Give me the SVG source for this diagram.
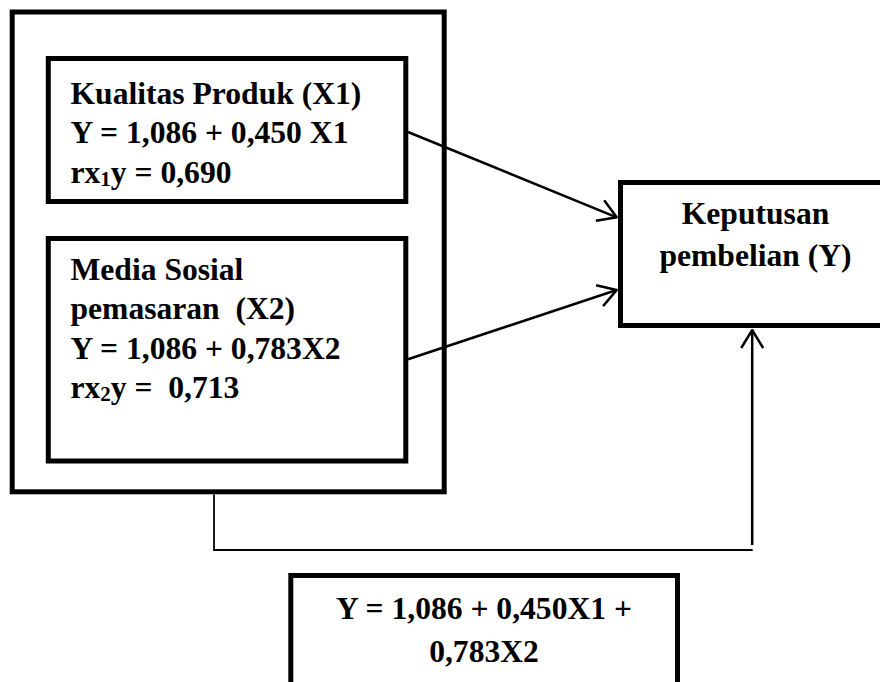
<svg xmlns="http://www.w3.org/2000/svg" width="880" height="682" viewBox="0 0 880 682">
<style>
.box{fill:#fff;stroke:#000;stroke-width:5}
.t{font-family:"Liberation Serif","Times New Roman",serif;font-weight:bold;font-size:31.6px;fill:#000;white-space:pre}
.c{text-anchor:middle}
.sub{font-size:21px}
.ln{fill:none;stroke:#000;stroke-width:2.5}
.thin{fill:none;stroke:#000;stroke-width:1.8}
</style>
<defs>
<marker id="arr" viewBox="0 0 20 24" refX="19" refY="12" markerWidth="20" markerHeight="24" markerUnits="userSpaceOnUse" orient="auto">
<path d="M1,1 L19,12 L1,23" fill="none" stroke="#000" stroke-width="2.5"/>
</marker>
</defs>
<g id="outer">
<rect class="box" x="12.2" y="12" width="432" height="479.8"/>
</g>
<g id="x1">
<rect class="box" x="48.3" y="58.5" width="357.5" height="143"/>
<text class="t" x="70.5" y="104">Kualitas Produk (X1)</text>
<text class="t" x="70.5" y="143.3">Y = 1,086 + 0,450 X1</text>
<text class="t" x="70.5" y="182.7">rx<tspan class="sub" dy="3">1</tspan><tspan dy="-3">y = 0,690</tspan></text>
</g>
<g id="x2">
<rect class="box" x="48.3" y="238.5" width="357.5" height="222.5"/>
<text class="t" x="70.5" y="280">Media Sosial</text>
<text class="t" x="70.5" y="319.3">pemasaran  (X2)</text>
<text class="t" x="70.5" y="358.6">Y = 1,086 + 0,783X2</text>
<text class="t" x="70.5" y="398">rx<tspan class="sub" dy="3">2</tspan><tspan dy="-3">y =  0,713</tspan></text>
</g>
<g id="y">
<rect class="box" x="620.5" y="182.5" width="270" height="143"/>
<text class="t c" x="755.5" y="224">Keputusan</text>
<text class="t c" x="755.5" y="265.7">pembelian (Y)</text>
</g>
<g id="eq">
<rect class="box" x="290.8" y="575.5" width="386.7" height="130"/>
<text class="t c" x="484" y="619.3">Y = 1,086 + 0,450X1 +</text>
<text class="t c" x="484" y="661.7">0,783X2</text>
</g>
<g id="connectors">
<line class="ln" x1="408" y1="132" x2="616.7" y2="217.3" marker-end="url(#arr)"/>
<line class="ln" x1="408" y1="359.3" x2="616.7" y2="290" marker-end="url(#arr)"/>
<polyline class="thin" points="214,494.5 214,550 752.7,550"/>
<line class="ln" x1="752.2" y1="545" x2="752.2" y2="330" marker-end="url(#arr)"/>
</g>
</svg>
